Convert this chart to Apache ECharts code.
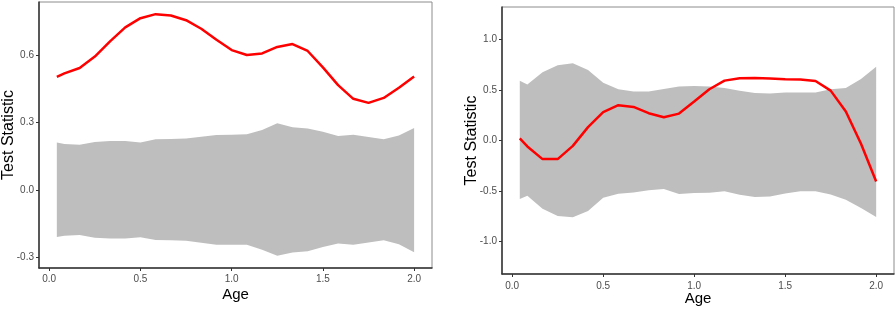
<!DOCTYPE html>
<html>
<head>
<meta charset="utf-8">
<script src="https://cdn.jsdelivr.net/npm/echarts@6/dist/echarts.min.js"></script>
<style>
html,body{margin:0;padding:0;background:#fff;}
#c{width:896px;height:309px;}
</style>
</head>
<body>
<div id="c"></div>
<script>
// Shared x values (Age)
var ages = [0.0417, 0.0833, 0.1667, 0.25, 0.3333, 0.4167, 0.5, 0.5833, 0.6667, 0.75, 0.8333, 0.9167, 1.0,
            1.0833, 1.1667, 1.25, 1.3333, 1.4167, 1.5, 1.5833, 1.6667, 1.75, 1.8333, 1.9167, 2.0];

// Left panel
var leftStat  = [0.503, 0.518, 0.542, 0.593, 0.661, 0.723, 0.764, 0.782, 0.776, 0.755, 0.717, 0.668, 0.622,
                 0.600, 0.607, 0.636, 0.649, 0.618, 0.545, 0.466, 0.405, 0.387, 0.409, 0.454, 0.504];
var leftUpper = [0.211, 0.204, 0.201, 0.213, 0.217, 0.217, 0.211, 0.225, 0.226, 0.228, 0.236, 0.244, 0.245,
                 0.247, 0.266, 0.296, 0.278, 0.273, 0.259, 0.239, 0.245, 0.235, 0.225, 0.242, 0.275];
var leftLower = [-0.210, -0.205, -0.201, -0.213, -0.217, -0.217, -0.211, -0.223, -0.224, -0.227, -0.236, -0.244, -0.245,
                 -0.245, -0.267, -0.294, -0.279, -0.273, -0.254, -0.239, -0.244, -0.234, -0.225, -0.242, -0.278];

// Right panel
var rightStat  = [0.020, -0.059, -0.184, -0.184, -0.053, 0.132, 0.280, 0.349, 0.332, 0.270, 0.230, 0.266, 0.385,
                  0.507, 0.592, 0.615, 0.618, 0.612, 0.605, 0.602, 0.589, 0.493, 0.286, -0.033, -0.405];
var rightUpper = [0.592, 0.553, 0.674, 0.743, 0.763, 0.697, 0.572, 0.507, 0.484, 0.484, 0.510, 0.533, 0.539,
                  0.533, 0.520, 0.493, 0.470, 0.464, 0.474, 0.474, 0.474, 0.507, 0.520, 0.609, 0.730];
var rightLower = [-0.579, -0.546, -0.674, -0.747, -0.760, -0.697, -0.566, -0.526, -0.513, -0.493, -0.480, -0.530, -0.520,
                  -0.516, -0.503, -0.536, -0.559, -0.553, -0.523, -0.503, -0.503, -0.533, -0.586, -0.668, -0.757];

// Tick labels
var xTicks = [0, 0.5, 1.0, 1.5, 2.0];
var leftYTicks = [-0.3, 0.0, 0.3, 0.6];
var rightYTicks = [-1.0, -0.5, 0.0, 0.5, 1.0];

function pairs(xs, ys) { return xs.map(function (x, i) { return [x, ys[i]]; }); }
function triples(xs, lo, hi) { return xs.map(function (x, i) { return [x, lo[i], hi[i]]; }); }

var FONT = '"Liberation Sans", Arial, sans-serif';
var axisLineStyle = { color: '#333333', width: 1.5 };
function tickLabel(margin) {
  return { color: '#4d4d4d', fontSize: 10, fontFamily: FONT, margin: margin,
           formatter: function (v) { return v.toFixed(1); } };
}

function xAxisDef(gi, labelMargin, nameGap) {
  return {
    type: 'value', gridIndex: gi, min: -0.056, max: 2.098,
    name: 'Age', nameLocation: 'middle', nameGap: nameGap, nameMoveOverlap: false,
    nameTextStyle: { fontSize: 15, color: '#000', fontFamily: FONT },
    axisLine: { show: true, onZero: false, lineStyle: axisLineStyle },
    axisTick: { show: true, length: 3, lineStyle: { color: '#333', width: 1 }, customValues: xTicks },
    axisLabel: Object.assign({ customValues: xTicks }, tickLabel(labelMargin)),
    splitLine: { show: false }
  };
}
function yAxisDef(gi, mn, mx, ticks, nameGap) {
  return {
    type: 'value', gridIndex: gi, min: mn, max: mx,
    name: 'Test Statistic', nameLocation: 'middle', nameGap: nameGap, nameMoveOverlap: false,
    nameTextStyle: { fontSize: 16, color: '#000', fontFamily: FONT },
    axisLine: { show: true, onZero: false, lineStyle: axisLineStyle },
    axisTick: { show: true, length: 3, lineStyle: { color: '#333', width: 1 }, customValues: ticks },
    axisLabel: Object.assign({ customValues: ticks }, tickLabel(5)),
    splitLine: { show: false }
  };
}
function band(gi, lower, upper) {
  var rows = triples(ages, lower, upper);
  return {
    type: 'custom', xAxisIndex: gi, yAxisIndex: gi, data: rows, silent: true, z: 1,
    encode: { x: 0, y: [1, 2] },
    renderItem: function (params, api) {
      if (params.dataIndex !== 0) return null;
      var top = [], bot = [];
      for (var i = 0; i < rows.length; i++) {
        top.push(api.coord([rows[i][0], rows[i][2]]));
        bot.unshift(api.coord([rows[i][0], rows[i][1]]));
      }
      return { type: 'polygon', shape: { points: top.concat(bot) },
               style: { fill: '#bebebe', stroke: null } };
    }
  };
}
function statLine(gi, vals) {
  return { type: 'line', xAxisIndex: gi, yAxisIndex: gi, data: pairs(ages, vals), symbol: 'none',
           lineStyle: { color: '#ff0000', width: 2.5 }, z: 3 };
}

var chart = echarts.init(document.getElementById('c'), null, { renderer: 'canvas' });
chart.setOption({
  animation: false,
  backgroundColor: '#ffffff',
  grid: [
    { left: 39, top: 2, width: 393, height: 266, show: true, borderColor: '#8c8c8c', borderWidth: 1,
      backgroundColor: '#fff', containLabel: false, outerBoundsMode: 'none' },
    { left: 502, top: 7, width: 392, height: 267, show: true, borderColor: '#8c8c8c', borderWidth: 1,
      backgroundColor: '#fff', containLabel: false, outerBoundsMode: 'none' }
  ],
  xAxis: [xAxisDef(0, 6, 19), xAxisDef(1, 7, 17)],
  yAxis: [yAxisDef(0, -0.348, 0.836, leftYTicks, 22), yAxisDef(1, -1.32, 1.32, rightYTicks, 22)],
  series: [band(0, leftLower, leftUpper), statLine(0, leftStat), band(1, rightLower, rightUpper), statLine(1, rightStat)]
});
</script>
</body>
</html>
